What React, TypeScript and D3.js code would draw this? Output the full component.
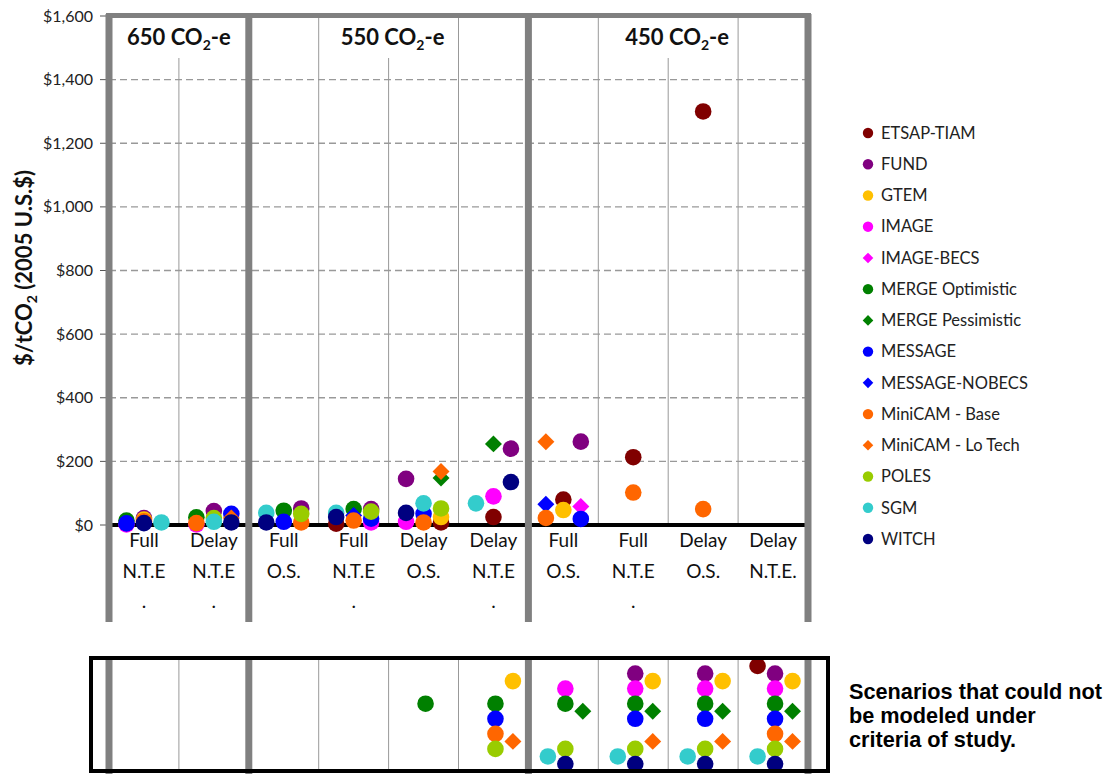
import React from "react";
import * as d3 from "d3";

// models, in legend order (later ones are drawn on top)
const models = [
  "ETSAP-TIAM",
  "FUND",
  "GTEM",
  "IMAGE",
  "IMAGE-BECS",
  "MERGE Optimistic",
  "MERGE Pessimistic",
  "MESSAGE",
  "MESSAGE-NOBECS",
  "MiniCAM - Base",
  "MiniCAM - Lo Tech",
  "POLES",
  "SGM",
  "WITCH",
];
const diamondModels = ["IMAGE-BECS", "MERGE Pessimistic", "MESSAGE-NOBECS", "MiniCAM - Lo Tech"];
const modelColors = [
  "#800000", "#800080", "#ffc000", "#ff00ff", "#ff00ff", "#008000", "#008000",
  "#0000ff", "#0000ff", "#ff6600", "#ff6600", "#99cc00", "#33cccc", "#000080",
];

// scenarios along the bottom
const scenarioTop = ["Full", "Delay", "Full", "Full", "Delay", "Delay", "Full", "Full", "Delay", "Delay"];
const scenarioMid = ["N.T.E", "N.T.E", "O.S.", "N.T.E", "O.S.", "N.T.E", "O.S.", "N.T.E", "O.S.", "N.T.E."];
const scenarioDot = [".", ".", "", ".", "", ".", "", ".", "", ""];

// stabilization targets and the scenario columns they span
const targets = ["650", "550", "450"];
const targetFirst = [0, 2, 6];
const targetEnd = [2, 6, 10];

const yTicks = [0, 200, 400, 600, 800, 1000, 1200, 1400, 1600];

// [scenario, model, slot in column, $/tCO2]
const prices: [number, string, string, number][] = [
  [0, "MERGE Optimistic", "L", 14],
  [0, "IMAGE", "L", 2],
  [0, "MESSAGE", "L", 5],
  [0, "FUND", "C", 22],
  [0, "GTEM", "C", 17],
  [0, "MiniCAM - Base", "C", 12],
  [0, "WITCH", "C", 6],
  [0, "SGM", "R", 8],

  [1, "MERGE Optimistic", "L", 24],
  [1, "IMAGE", "L", 2],
  [1, "MiniCAM - Base", "L", 6],
  [1, "FUND", "C", 44],
  [1, "POLES", "C", 22],
  [1, "SGM", "C", 10],
  [1, "MESSAGE", "R", 35],
  [1, "MiniCAM - Lo Tech", "R", 22],
  [1, "WITCH", "R", 8],

  [2, "SGM", "L", 38],
  [2, "WITCH", "L", 8],
  [2, "MERGE Optimistic", "C", 45],
  [2, "MESSAGE", "C", 10],
  [2, "FUND", "R", 52],
  [2, "POLES", "R", 35],
  [2, "MiniCAM - Base", "R", 8],

  [3, "ETSAP-TIAM", "L", 4],
  [3, "SGM", "L", 38],
  [3, "WITCH", "L", 25],
  [3, "MERGE Optimistic", "C", 50],
  [3, "MESSAGE-NOBECS", "C", 30],
  [3, "MiniCAM - Base", "C", 14],
  [3, "FUND", "R", 50],
  [3, "IMAGE", "R", 8],
  [3, "MESSAGE", "R", 20],
  [3, "POLES", "R", 42],

  [4, "FUND", "L", 145],
  [4, "WITCH", "L", 38],
  [4, "IMAGE", "L", 10],
  [4, "SGM", "C", 68],
  [4, "MESSAGE", "C", 35],
  [4, "MiniCAM - Base", "C", 8],
  [4, "MERGE Pessimistic", "R", 148],
  [4, "MiniCAM - Lo Tech", "R", 168],
  [4, "POLES", "R", 52],
  [4, "GTEM", "R", 25],
  [4, "ETSAP-TIAM", "R", 8],

  [5, "SGM", "L", 68],
  [5, "MERGE Pessimistic", "C", 255],
  [5, "IMAGE", "C", 90],
  [5, "ETSAP-TIAM", "C", 25],
  [5, "FUND", "R", 240],
  [5, "WITCH", "R", 135],

  [6, "MiniCAM - Lo Tech", "L", 262],
  [6, "MESSAGE-NOBECS", "L", 65],
  [6, "MiniCAM - Base", "L", 22],
  [6, "ETSAP-TIAM", "C", 80],
  [6, "GTEM", "C", 47],
  [6, "FUND", "R", 262],
  [6, "IMAGE-BECS", "R", 58],
  [6, "MESSAGE", "R", 19],

  [7, "ETSAP-TIAM", "C", 213],
  [7, "MiniCAM - Base", "C", 102],

  [8, "ETSAP-TIAM", "C", 1300],
  [8, "MiniCAM - Base", "C", 50],
];

// models that could not reach each scenario
const notModeled: [number, string[]][] = [
  [4, ["MERGE Optimistic"]],
  [5, ["GTEM", "MERGE Optimistic", "MESSAGE", "MiniCAM - Base", "MiniCAM - Lo Tech", "POLES"]],
  [6, ["IMAGE", "MERGE Optimistic", "MERGE Pessimistic", "POLES", "SGM", "WITCH"]],
  [7, ["FUND", "GTEM", "IMAGE", "MERGE Optimistic", "MERGE Pessimistic", "MESSAGE", "MiniCAM - Lo Tech", "POLES", "SGM", "WITCH"]],
  [8, ["FUND", "GTEM", "IMAGE", "MERGE Optimistic", "MERGE Pessimistic", "MESSAGE", "MiniCAM - Lo Tech", "POLES", "SGM", "WITCH"]],
  [9, ["ETSAP-TIAM", "FUND", "GTEM", "IMAGE", "MERGE Optimistic", "MERGE Pessimistic", "MESSAGE", "MiniCAM - Base", "MiniCAM - Lo Tech", "POLES", "SGM", "WITCH"]],
];
const leftSlotModels = ["ETSAP-TIAM", "SGM"];
const rightSlotModels = ["GTEM", ...diamondModels];

const FONT = "Lato, 'Open Sans', sans-serif";
const GRAY = "#808080";

const Marker = ({ cx, cy, model, color, small }) => {
  if (diamondModels.includes(model)) {
    const d = d3.symbol(d3.symbolSquare, small ? 56 : 144)();
    return <path d={d} transform={`translate(${cx},${cy}) rotate(45)`} fill={color} />;
  }
  return <circle cx={cx} cy={cy} r={small ? 5.2 : 8.3} fill={color} />;
};

export default function App() {
  const W = 1107, H = 774;
  const left = 109, right = 808;

  const x = d3.scaleBand<number>().domain(d3.range(10)).range([left, right]);
  const bw = x.bandwidth();
  const slot = d3.scalePoint<string>().domain(["L", "C", "R"]).range([0, bw]).padding(1);
  const y = d3.scaleLinear().domain([0, 1600]).range([525, 16]);
  const color = d3.scaleOrdinal<string, string>().domain(models).range(modelColors);
  const legendY = d3.scalePoint<string>().domain(models).range([133, 539]);
  const missingY = d3.scalePoint<string>().domain(models).range([666, 764]);

  const edge = (i: number) => (i >= 10 ? right : (x(i) as number));
  const thick = [0, 2, 6, 10];
  const labelShift = [0, 4, 9];

  const sortedPrices = [...prices].sort((a, b) => models.indexOf(a[1]) - models.indexOf(b[1]));

  const missing = notModeled.flatMap(([s, list]) =>
    list.map((m) => ({
      s,
      m,
      slot: leftSlotModels.includes(m) ? "L" : rightSlotModels.includes(m) ? "R" : "C",
    }))
  );

  return (
    <svg width={W} height={H} style={{ position: "absolute", left: 0, top: 0, background: "#fff" }} fontFamily={FONT}>
      <rect width={W} height={H} fill="#fff" />

      {/* dashed gridlines */}
      {yTicks.slice(1, -1).map((t) => (
        <line key={t} x1={left} x2={right} y1={y(t)} y2={y(t)} stroke="#999" strokeWidth={1.3} strokeDasharray="7,4" />
      ))}

      {/* thin column separators */}
      {d3.range(11).filter((i) => !thick.includes(i)).map((i) => (
        <line key={i} x1={edge(i)} x2={edge(i)} y1={16} y2={y(0)} stroke="#999" strokeWidth={1} />
      ))}

      {/* target header boxes */}
      {targets.map((t, k) => {
        const cx = (edge(targetFirst[k]) + edge(targetEnd[k])) / 2 + labelShift[k];
        return (
          <g key={t}>
            <rect x={cx - 58} y={18} width={116} height={40} fill="#fff" />
            <text x={cx} y={45} textAnchor="middle" fontWeight="bold" fontSize={22} fill="#111">
              {t} CO<tspan fontSize={14} dy={5}>2</tspan><tspan dy={-5}>-e</tspan>
            </text>
          </g>
        );
      })}

      {/* y axis */}
      {yTicks.map((t) => (
        <g key={t}>
          <line x1={100} x2={106} y1={y(t)} y2={y(t)} stroke="#555" strokeWidth={1} />
          <text x={93} y={y(t)} dy="0.35em" textAnchor="end" fontSize={16} fill="#222">
            {d3.format("$,")(t)}
          </text>
        </g>
      ))}
      <text transform="translate(32,268) rotate(-90)" textAnchor="middle" fontWeight="bold" fontSize={22} fill="#111">
        $/tCO<tspan fontSize={14} dy={5}>2</tspan><tspan dy={-5}> (2005 U.S.$)</tspan>
      </text>

      {/* baseline */}
      <line x1={106} x2={right} y1={y(0)} y2={y(0)} stroke="#000" strokeWidth={4} />

      {/* points */}
      {sortedPrices.map(([s, m, sl, v], i) => (
        <Marker key={i} cx={(x(s) as number) + (slot(sl) as number)} cy={y(v)} model={m} color={color(m)} />
      ))}

      {/* thick group separators and top border */}
      {thick.map((i) => (
        <line key={i} x1={edge(i)} x2={edge(i)} y1={14} y2={622} stroke={GRAY} strokeWidth={7} />
      ))}
      <line x1={106} x2={811} y1={15.5} y2={15.5} stroke={GRAY} strokeWidth={5} />

      {/* scenario labels */}
      {d3.range(10).map((i) => {
        const cx = (x(i) as number) + bw / 2;
        return (
          <g key={i} fontSize={19} fill="#111" textAnchor="middle">
            <text x={cx} y={547}>{scenarioTop[i]}</text>
            <text x={cx} y={578}>{scenarioMid[i]}</text>
            <text x={cx} y={608}>{scenarioDot[i]}</text>
          </g>
        );
      })}

      {/* legend */}
      {models.map((m) => (
        <g key={m}>
          <Marker cx={868} cy={legendY(m)} model={m} color={color(m)} small />
          <text x={881} y={legendY(m)} dy="0.35em" fontSize={16.5} fill="#222">{m}</text>
        </g>
      ))}

      {/* lower panel: scenarios that could not be modeled */}
      <rect x={91} y={658} width={737} height={113} fill="#fff" />
      {d3.range(11).filter((i) => !thick.includes(i)).map((i) => (
        <line key={i} x1={edge(i)} x2={edge(i)} y1={658} y2={771} stroke="#999" strokeWidth={1} />
      ))}
      {thick.map((i) => (
        <line key={i} x1={edge(i)} x2={edge(i)} y1={658} y2={774} stroke={GRAY} strokeWidth={7} />
      ))}
      {missing
        .sort((a, b) => models.indexOf(a.m) - models.indexOf(b.m))
        .map((d, i) => (
          <Marker key={i} cx={(x(d.s) as number) + (slot(d.slot) as number) + 2} cy={missingY(d.m)} model={d.m} color={color(d.m)} />
        ))}
      <rect x={91} y={658} width={737} height={113} fill="none" stroke="#000" strokeWidth={4} />

      <g fontFamily="'Liberation Sans', Arial, sans-serif" fontWeight="bold" fontSize={21.7} fill="#000">
        <text x={849} y={699}>Scenarios that could not</text>
        <text x={849} y={723}>be modeled under</text>
        <text x={849} y={747}>criteria of study.</text>
      </g>
    </svg>
  );
}
